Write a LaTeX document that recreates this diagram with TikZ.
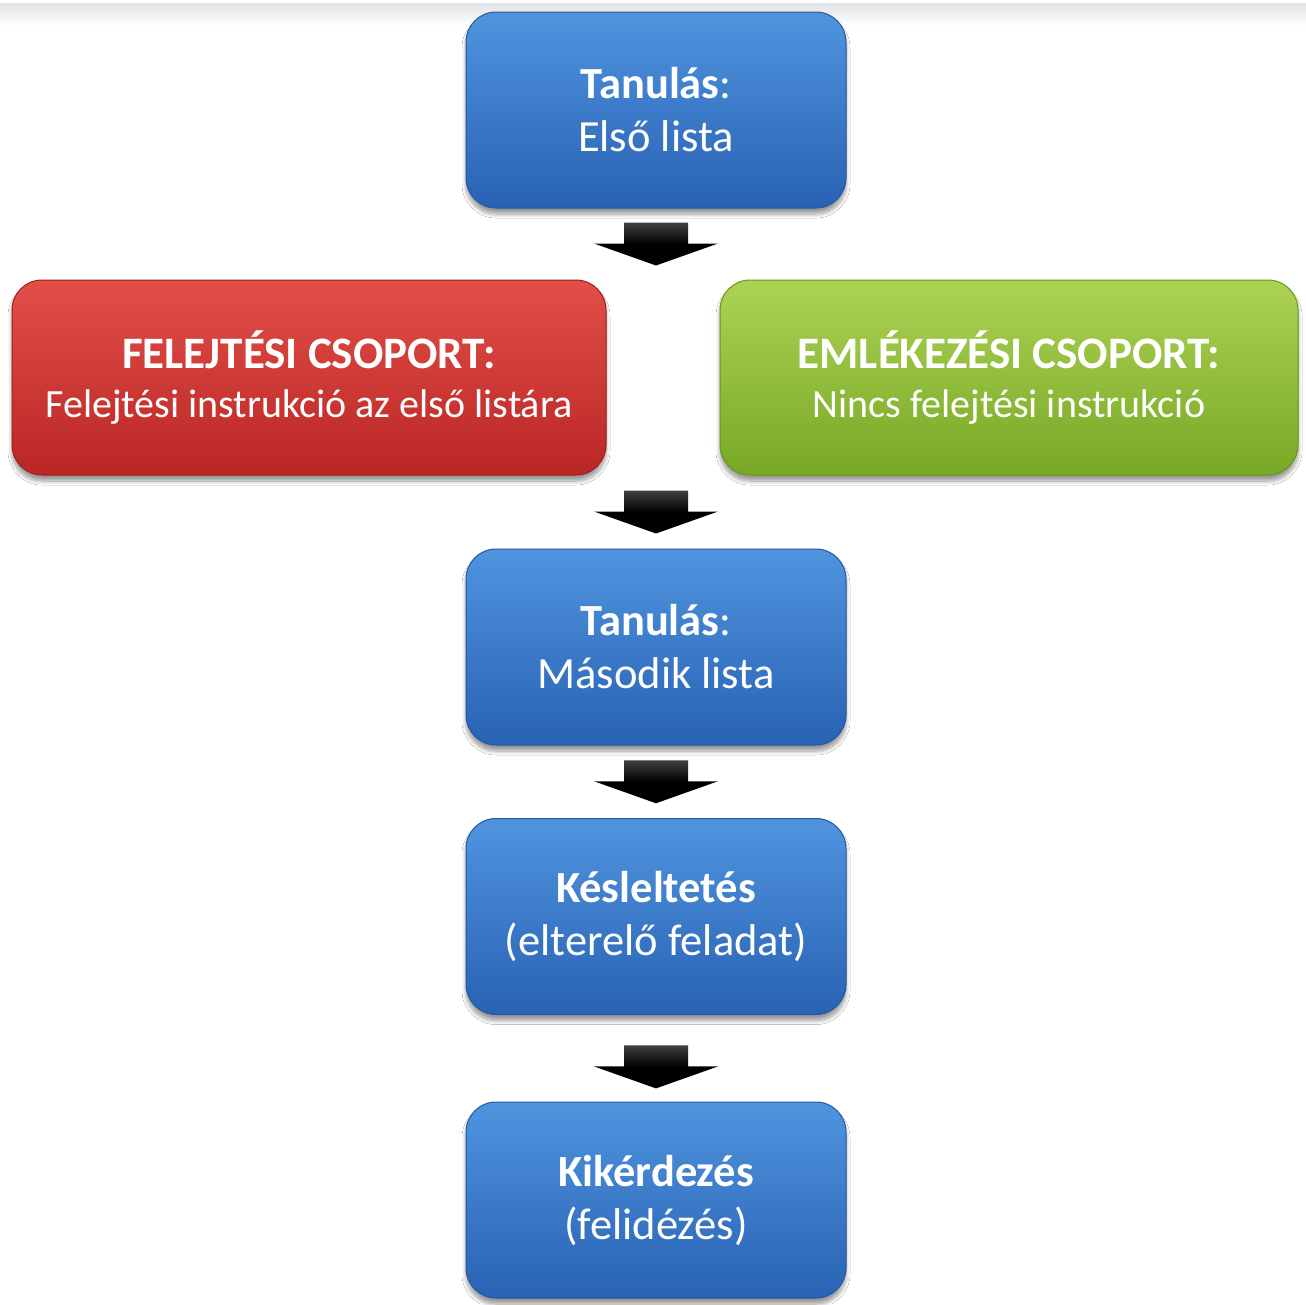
\documentclass[tikz,border=0pt]{standalone}
\usepackage{fontspec}
\setmainfont{Carlito}
\usetikzlibrary{calc,shadows.blur}
\definecolor{bluetop}{RGB}{80,148,222}
\definecolor{bluebot}{RGB}{40,98,180}
\definecolor{blueedge}{RGB}{36,88,160}
\definecolor{redtop}{RGB}{226,78,72}
\definecolor{redbot}{RGB}{186,38,36}
\definecolor{rededge}{RGB}{160,30,30}
\definecolor{greentop}{RGB}{172,210,84}
\definecolor{greenbot}{RGB}{120,168,38}
\definecolor{greenedge}{RGB}{104,150,30}
\tikzset{
  stepbox/.style={rounded corners=30pt, inner sep=0pt, align=center, text=white,
    font=\fontsize{44.5}{53}\selectfont,
    blur shadow={shadow xshift=0pt, shadow yshift=-6pt, shadow blur steps=8, shadow opacity=40, shadow blur radius=4pt},
    line width=1pt},
  bluebox/.style={stepbox, top color=bluetop, bottom color=bluebot, draw=blueedge,
    minimum width=380pt, minimum height=196pt},
  redbox/.style={stepbox, top color=redtop, bottom color=redbot, draw=rededge,
    minimum width=594pt, minimum height=195pt, font=\fontsize{40}{49}\selectfont},
  greenbox/.style={stepbox, top color=greentop, bottom color=greenbot, draw=greenedge,
    minimum width=578pt, minimum height=195pt, font=\fontsize{40}{49}\selectfont},
  headfont/.style={font=\fontsize{45}{49}\selectfont\bfseries},
  blockarrow/.style={top color=black!75, bottom color=black, middle color=black, draw=none},
}
\newcommand{\bighead}[1]{{\fontsize{45}{49}\selectfont\bfseries #1}}
\newcommand{\myblockarrow}[1]{%
  \path[blockarrow] ($(#1)+(-32,-21.5)$) -- ($(#1)+(32,-21.5)$) -- ($(#1)+(32,-0.5)$)
    -- ($(#1)+(62,-0.5)$) -- ($(#1)+(0,21.5)$) -- ($(#1)+(-62,-0.5)$)
    -- ($(#1)+(-32,-0.5)$) -- cycle;}
\begin{document}
\begin{tikzpicture}[x=1pt,y=-1pt]
\useasboundingbox (0,0) rectangle (1306,1304);
\fill[white] (0,0) rectangle (1306,1304);
\shade[top color=black!11, bottom color=white] (0,3) rectangle (1306,26);

\node[bluebox] (t1) at (656,110) {\textbf{Tanulás}:\\Első lista};
\node[redbox] (fg) at (309,377.5) {\bighead{FELEJTÉSI CSOPORT:}\\Felejtési instrukció az első listára};
\node[greenbox] (rg) at (1009,377.5) {\bighead{EMLÉKEZÉSI CSOPORT:}\\Nincs felejtési instrukció};
\node[bluebox] (t2) at (656,647) {\textbf{Tanulás}:\\Második lista};
\node[bluebox] (ks) at (656,916.5) {\textbf{Késleltetés}\\(elterelő feladat)};
\node[bluebox] (kk) at (656,1200) {\textbf{Kikérdezés}\\(felidézés)};

\coordinate (a1) at ($(t1.south)!0.5!(t1.south |- fg.north)$);
\coordinate (a2) at ($(t2.north |- fg.south)!0.5!(t2.north)$);
\coordinate (a3) at ($(t2.south)!0.5!(ks.north)$);
\coordinate (a4) at ($(ks.south)!0.6!(kk.north)$);
\myblockarrow{a1}
\myblockarrow{a2}
\myblockarrow{a3}
\myblockarrow{a4}
\end{tikzpicture}
\end{document}
